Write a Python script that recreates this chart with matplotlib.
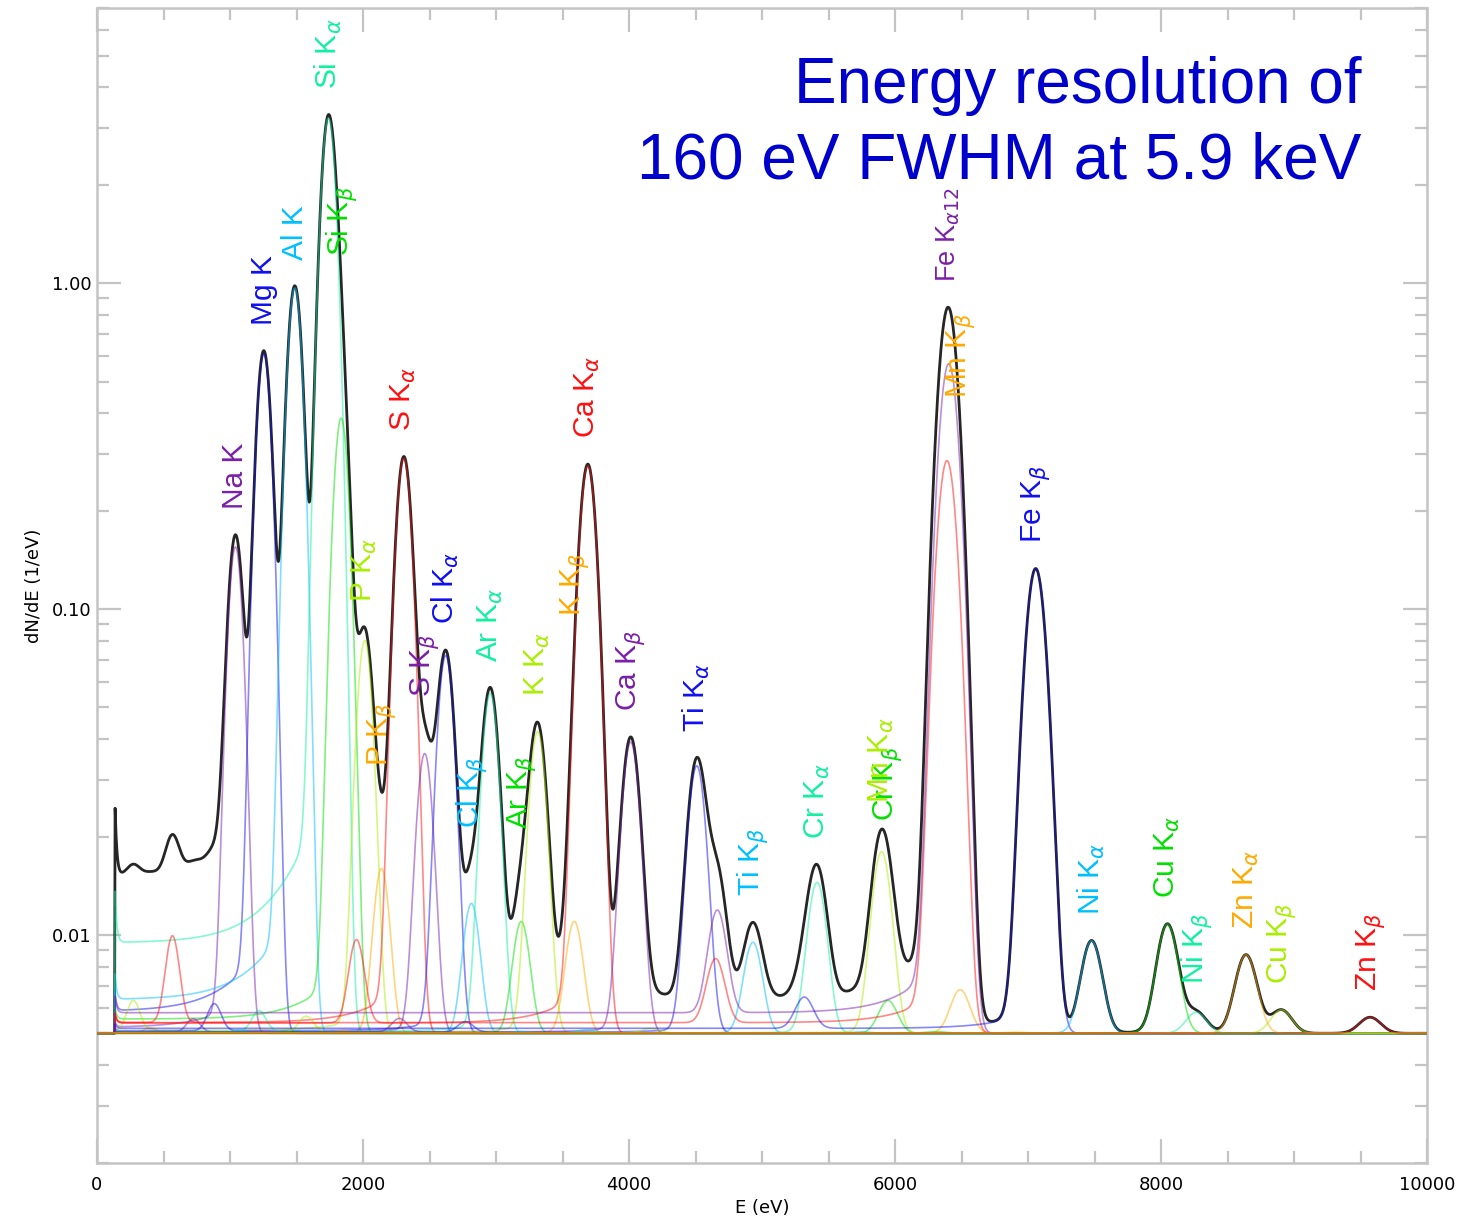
import math
import numpy as np
import matplotlib
matplotlib.use("Agg")
import matplotlib.pyplot as plt
from matplotlib.ticker import LogLocator, FuncFormatter, MultipleLocator, NullFormatter

#-------------------- LINE LIST --------------------#
line_labels = ['Na K', 'Mg K', 'Al K', r'Si K$_\alpha$', r'Si K$_\beta$',
               r'P K$_\alpha$', r'P K$_\beta$', r'S K$_\alpha$', r'S K$_\beta$',
               r'Cl K$_\alpha$', r'Cl K$_\beta$', r'Ar K$_\alpha$', r'Ar K$_\beta$',
               r'K K$_\alpha$', r'K K$_\beta$', r'Ca K$_\alpha$', r'Ca K$_\beta$',
               r'Ti K$_\alpha$', r'Ti K$_\beta$', r'Cr K$_\alpha$', r'Cr K$_\beta$',
               r'Mn K$_\alpha$', r'Mn K$_\beta$', '', r'Fe K$_{\alpha 12}$',
               r'Fe K$_\beta$', r'Ni K$_\alpha$', r'Ni K$_\beta$', r'Cu K$_\alpha$',
               r'Cu K$_\beta$', r'Zn K$_\alpha$', r'Zn K$_\beta$']
line_energy = [1041, 1254, 1487, 1740, 1836, 2013, 2139, 2307, 2464, 2622, 2815,
               2957, 3190, 3313, 3589, 3691, 4013, 4510, 4932, 5414, 5947, 5899,
               6490, 6391, 6404, 7058, 7478, 8265, 8048, 8905, 8639, 9572]
line_amp = [0.15, 0.60, 0.96, 3.2, 0.38, 0.075, 0.011, 0.285, 0.031, 0.067, 0.0075,
            0.050, 0.006, 0.037, 0.006, 0.27, 0.034, 0.028, 0.0045, 0.0095, 0.0013,
            0.013, 0.0018, 0.28, 0.56, 0.128, 0.0046, 0.0008, 0.0058, 0.0009,
            0.0037, 0.0006]
escape_ratio = [0, 0, 0, 0, 0, 0.016, 0.016, 0.016, 0.016, 0.016, 0.016,
                0.016, 0.016, 0.016, 0.016, 0.016, 0.015, 0.014, 0.013, 0.012, 0.012,
                0.012, 0.011, 0.011, 0.011, 0.010, 0.010, 0.009, 0.009, 0.009,
                0.009, 0.008]
palette = ['#7a1fa8', '#1010f0', '#00bfff', '#10f0a0', '#00e000', '#aaee00',
           '#ffaa00', '#ff1010']

baseline = 0.005
shelf_frac = 0.0014
tail_frac = 0.006
tail_len = 250.0
e_thr = 135.0
e_si = 1740.0

E = np.arange(0, 10001, 4.0)
erfc = np.vectorize(math.erfc)


def sigma_of(e):
    fwhm = np.sqrt(160.0**2 + 2.398 * (e - 5900.0))
    return fwhm / 2.355


def component(e0, amp, esc):
    sig = sigma_of(e0)
    z = (E - e0) / (np.sqrt(2) * sig)
    peak = np.exp(-z**2)
    shelf = shelf_frac * 0.5 * erfc(z) * (1 + np.exp(-(E - e_thr) / 12.0))
    arg = (E - e0) / tail_len + sig**2 / (2 * tail_len**2)
    tail = tail_frac * 0.5 * np.exp(np.minimum(arg, 60)) * erfc(z + sig / (np.sqrt(2) * tail_len))
    y = peak + shelf + tail
    if esc > 0:
        e1 = e0 - e_si
        s1 = sigma_of(e1)
        y = y + esc * np.exp(-(E - e1)**2 / (2 * s1**2))
    y = amp * y
    y[E < e_thr] = 0
    return baseline + y


comps = [component(e0, a, r) for e0, a, r in zip(line_energy, line_amp, escape_ratio)]
total = baseline + sum(c - baseline for c in comps)

#-------------------- PLOT --------------------#
plt.rcParams['font.family'] = ['Liberation Sans', 'DejaVu Sans']
fig = plt.figure(figsize=(14.6, 12.18), dpi=100)
ax = fig.add_axes([97/1460, 1 - 1163/1218, 1330/1460, 1155/1218])

ax.plot(E, total, color='black', lw=2.0, alpha=0.85, zorder=3)
for i, c in enumerate(comps):
    ax.plot(E, c, color=palette[i % 8], lw=1.2, alpha=0.5, zorder=4)

for i, (lab, e0) in enumerate(zip(line_labels, line_energy)):
    if not lab:
        continue
    ypos = np.interp(e0, E, total) * 1.2
    fs = 19.5 if '12' in lab else 21.5   # long subscript drawn a bit smaller
    ax.text(e0, ypos, lab, rotation=90, ha='center', va='bottom',
            fontsize=fs, color=palette[i % 8], zorder=5)

ax.text(0.951, 0.9, 'Energy resolution of\n160 eV FWHM at 5.9 keV',
        transform=ax.transAxes, ha='right', va='center', fontsize=46,
        color='#0000cd', linespacing=1.32)

ax.set_yscale('log')
ax.set_xlim(0, 10000)
ax.set_ylim(0.002, 7.0)
ax.xaxis.set_major_locator(MultipleLocator(2000))
ax.xaxis.set_minor_locator(MultipleLocator(500))
ax.yaxis.set_major_locator(LogLocator(base=10))
ax.yaxis.set_minor_locator(LogLocator(base=10, subs=np.arange(2, 10)))
ax.yaxis.set_minor_formatter(NullFormatter())
ax.yaxis.set_major_formatter(FuncFormatter(lambda v, p: '%.2f' % v))

for s in ax.spines.values():
    s.set_color('#c4c4c4')
    s.set_linewidth(1.8)
ax.tick_params(which='both', direction='in', top=True, right=True,
               color='#c4c4c4', width=1.6, labelsize=13)
ax.tick_params(which='major', length=17)
ax.tick_params(which='minor', length=8.5)
ax.tick_params(axis='x', pad=9)
ax.tick_params(axis='y', pad=4)
for t in ax.get_xticklabels() + ax.get_yticklabels():
    t.set_family('DejaVu Sans')

ax.set_xlabel('E (eV)', fontsize=13, family='DejaVu Sans', labelpad=4)
ax.set_ylabel('dN/dE (1/eV)', fontsize=13, family='DejaVu Sans', labelpad=6)

plt.savefig('out.png', dpi=100)
